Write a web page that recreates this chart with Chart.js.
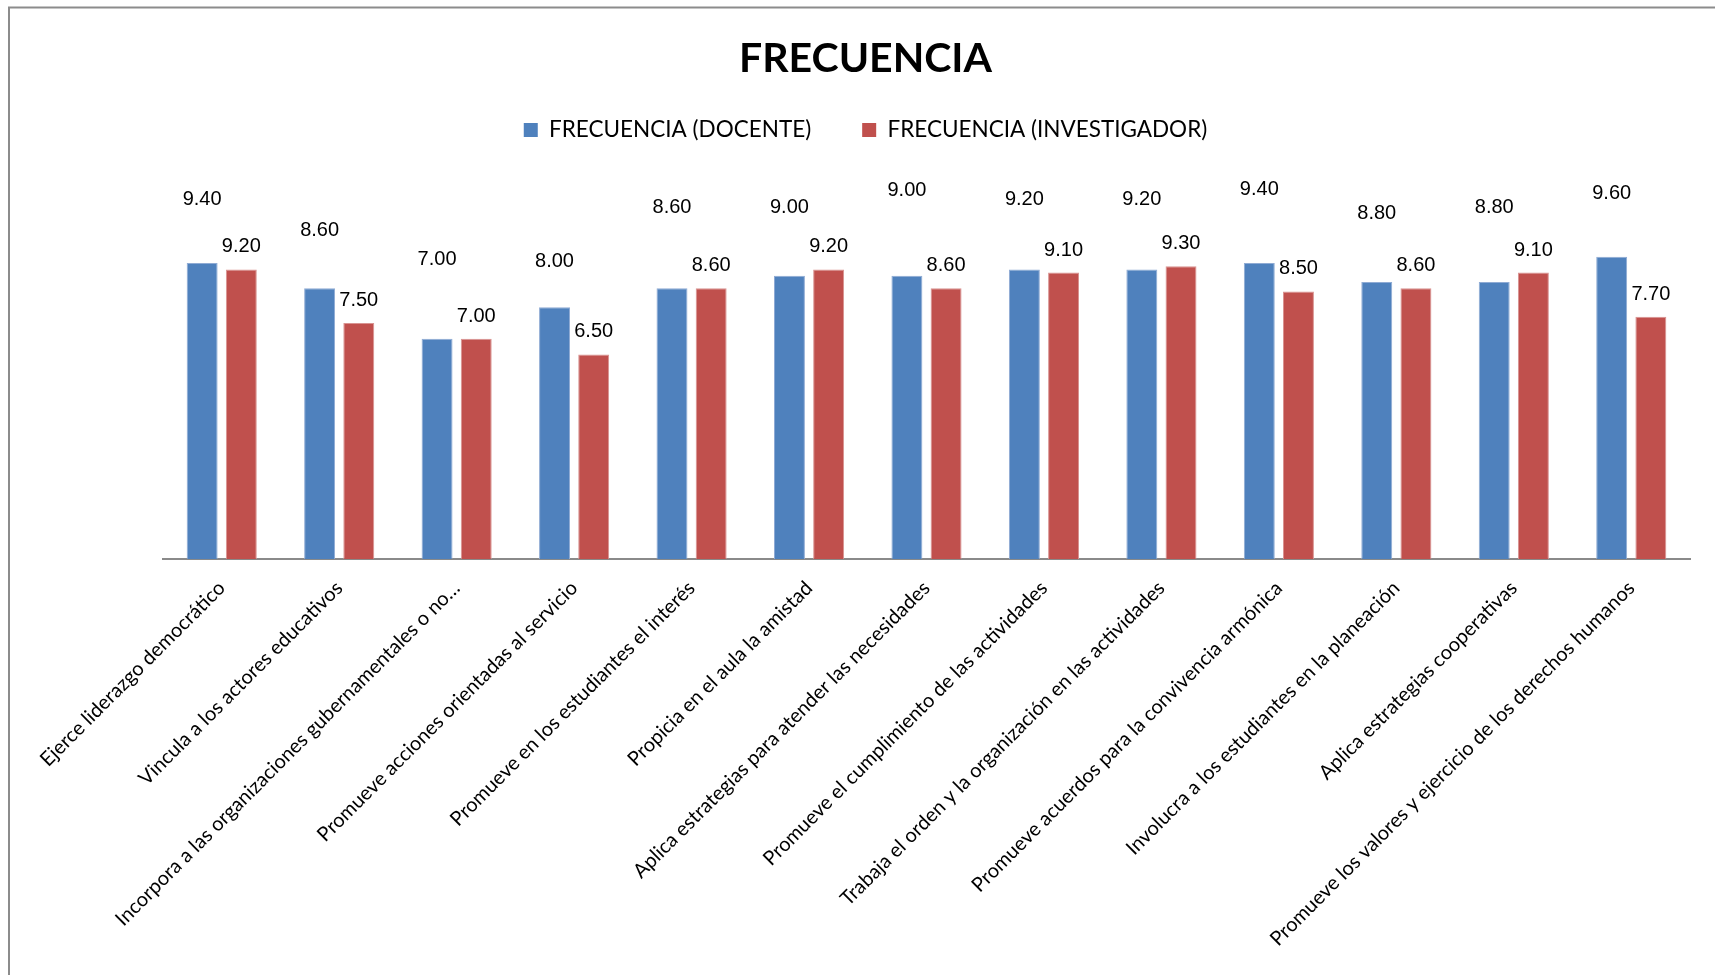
<!DOCTYPE html>
<html>
<head>
<meta charset="utf-8">
<title>FRECUENCIA</title>
<script src="https://cdn.jsdelivr.net/npm/chart.js@4.4.1/dist/chart.umd.min.js"></script>
<style>
  html, body { margin: 0; padding: 0; background: #fff; overflow: hidden; }
  #wrap { position: relative; width: 1715px; height: 975px; }
</style>
</head>
<body>
<div id="wrap"><canvas id="chart" width="1715" height="975"></canvas></div>
<script>
// ---- data ----
const categories = [
  'Ejerce liderazgo democrático',
  'Vincula a los actores educativos',
  'Incorpora a las organizaciones gubernamentales o no…',
  'Promueve acciones orientadas al servicio',
  'Promueve en los estudiantes el interés',
  'Propicia en el aula la amistad',
  'Aplica estrategias para atender las necesidades',
  'Promueve el cumplimiento de las actividades',
  'Trabaja el orden y la organización en las actividades',
  'Promueve acuerdos para la convivencia armónica',
  'Involucra a los estudiantes en la planeación',
  'Aplica estrategias cooperativas',
  'Promueve los valores y ejercicio de los derechos humanos'
];
const docente = [9.40, 8.60, 7.00, 8.00, 8.60, 9.00, 9.00, 9.20, 9.20, 9.40, 8.80, 8.80, 9.60];
const investigador = [9.20, 7.50, 7.00, 6.50, 8.60, 9.20, 8.60, 9.10, 9.30, 8.50, 8.60, 9.10, 7.70];
const seriesNames = ['FRECUENCIA (DOCENTE)', 'FRECUENCIA (INVESTIGADOR)'];
const chartTitle = 'FRECUENCIA';

// ---- label layout (pixels between bar top and value-label baseline) ----
const docenteLabelRaise = [58, 52, 74, 40, 75, 63, 80, 64, 64, 68, 63, 69, 58];
const investigadorLabelRaise = 17;

// white page with a thin grey frame on the top and left edges
const framePlugin = {
  id: 'frame',
  beforeDraw(chart) {
    const ctx = chart.ctx;
    ctx.save();
    ctx.fillStyle = '#ffffff';
    ctx.fillRect(0, 0, chart.width, chart.height);
    ctx.strokeStyle = '#8c8c8c';
    ctx.lineWidth = 2;
    ctx.beginPath();
    ctx.moveTo(9, chart.height);
    ctx.lineTo(9, 7.5);
    ctx.lineTo(chart.width, 7.5);
    ctx.stroke();
    ctx.restore();
  }
};

// value labels printed above each bar
const valueLabelPlugin = {
  id: 'valueLabels',
  afterDatasetsDraw(chart) {
    const ctx = chart.ctx;
    ctx.save();
    ctx.font = '20px "Liberation Sans", Arial, sans-serif';
    ctx.fillStyle = '#000000';
    ctx.textAlign = 'center';
    ctx.textBaseline = 'alphabetic';
    chart.data.datasets.forEach((ds, di) => {
      const meta = chart.getDatasetMeta(di);
      meta.data.forEach((bar, i) => {
        const raise = di === 0 ? docenteLabelRaise[i] : investigadorLabelRaise;
        ctx.fillText(ds.data[i].toFixed(2), bar.x, bar.y - raise);
      });
    });
    ctx.restore();
  }
};

function build() {
  new Chart(document.getElementById('chart'), {
    type: 'bar',
    data: {
      labels: categories,
      datasets: [
        {
          label: seriesNames[0],
          data: docente,
          backgroundColor: '#4F81BD',
          borderColor: '#8fabd4',
          borderWidth: 1,
          categoryPercentage: 0.667,
          barPercentage: 0.79
        },
        {
          label: seriesNames[1],
          data: investigador,
          backgroundColor: '#C0504D',
          borderColor: '#d99391',
          borderWidth: 1,
          categoryPercentage: 0.667,
          barPercentage: 0.79
        }
      ]
    },
    options: {
      responsive: false,
      devicePixelRatio: 1,
      animation: false,
      layout: { padding: { left: 41, right: 25, top: 0, bottom: 0 } },
      plugins: {
        title: {
          display: true,
          text: chartTitle,
          color: '#000000',
          font: { family: 'Lato', weight: 'bold', size: 41, lineHeight: 0.45 },
          padding: { top: 49.3, bottom: 0 }
        },
        legend: {
          display: true,
          position: 'top',
          labels: {
            color: '#000000',
            font: { family: 'Lato', size: 22.5 },
            boxWidth: 14,
            boxHeight: 14,
            padding: 51,
            generateLabels(chart) {
              const items = Chart.defaults.plugins.legend.labels.generateLabels(chart);
              items.forEach(it => { it.lineWidth = 0; it.strokeStyle = 'rgba(0,0,0,0)'; });
              return items;
            }
          }
        },
        tooltip: { enabled: false }
      },
      scales: {
        x: {
          grid: { display: false, drawTicks: false },
          border: { display: true, color: '#8a8a8a', width: 2 },
          ticks: {
            color: '#000000',
            font: { family: 'Lato', size: 20 },
            minRotation: 45,
            maxRotation: 45,
            autoSkip: false,
            padding: 17
          },
          afterFit(scale) { scale.height = 415.7; }
        },
        y: {
          min: 0,
          max: 12.95,
          grid: { display: false },
          border: { display: false },
          ticks: { display: false },
          afterFit(scale) { scale.width = 122; }
        }
      }
    },
    plugins: [framePlugin, valueLabelPlugin]
  });
}

const fontLoads = [
  'bold 41px Lato', '22.5px Lato', '20px Lato', '20px "Liberation Sans"'
].map(f => document.fonts.load(f).catch(() => null));
Promise.all(fontLoads).then(build, build);
</script>
</body>
</html>
